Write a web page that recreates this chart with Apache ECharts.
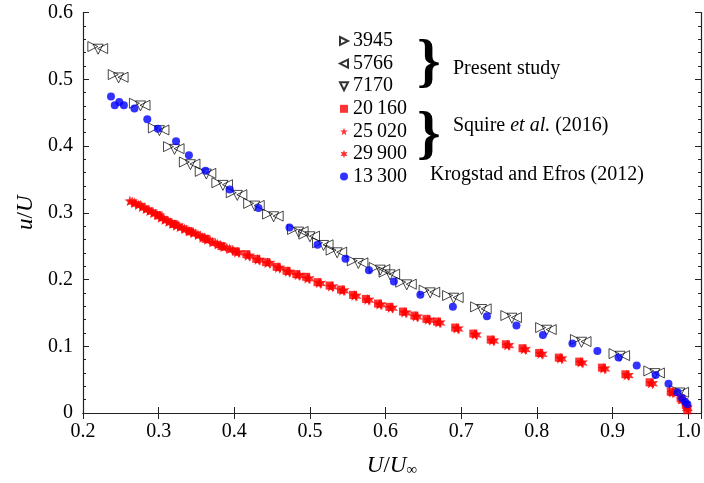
<!DOCTYPE html>
<html><head><meta charset="utf-8">
<script src="https://cdn.jsdelivr.net/npm/echarts@6/dist/echarts.min.js"></script>
<style>html,body{margin:0;padding:0;background:#fff}#c{width:704px;height:483px}</style>
</head><body><div id="c"></div>
<script>
// ---- data ----
const xTickLabels = ['0.2','0.3','0.4','0.5','0.6','0.7','0.8','0.9','1.0'];
const yTickLabels = ['0','0.1','0.2','0.3','0.4','0.5','0.6'];
const seriesNames = ['3945','5766','7170','20\u2009160','25\u2009020','29\u2009900','13\u2009300'];

const re3945 = [[0.213,0.549],[0.240,0.507],[0.268,0.464],[0.293,0.427],[0.313,0.399],[0.334,0.376],[0.355,0.362],[0.377,0.345],[0.396,0.330],[0.419,0.314],[0.444,0.298],[0.477,0.275],[0.492,0.268],[0.510,0.255],[0.528,0.244],[0.556,0.228],[0.585,0.218],[0.598,0.211],[0.620,0.196],[0.651,0.184],[0.682,0.176],[0.719,0.159],[0.759,0.146],[0.805,0.128],[0.851,0.110],[0.902,0.089],[0.948,0.063],[0.982,0.034]];
const re5766 = [[0.226,0.546],[0.253,0.503],[0.282,0.461],[0.307,0.424],[0.327,0.396],[0.348,0.373],[0.369,0.359],[0.391,0.342],[0.410,0.327],[0.433,0.311],[0.458,0.295],[0.491,0.272],[0.506,0.265],[0.524,0.252],[0.542,0.241],[0.570,0.225],[0.599,0.215],[0.612,0.208],[0.634,0.193],[0.665,0.181],[0.696,0.173],[0.733,0.156],[0.773,0.143],[0.819,0.125],[0.865,0.107],[0.916,0.086],[0.962,0.060],[0.994,0.031]];
const re7170 = [[0.220,0.545],[0.247,0.502],[0.276,0.460],[0.301,0.423],[0.321,0.395],[0.342,0.372],[0.363,0.358],[0.385,0.341],[0.404,0.326],[0.427,0.310],[0.452,0.294],[0.485,0.271],[0.500,0.264],[0.518,0.251],[0.536,0.240],[0.564,0.224],[0.593,0.214],[0.606,0.207],[0.628,0.192],[0.659,0.180],[0.690,0.172],[0.727,0.155],[0.767,0.142],[0.813,0.124],[0.859,0.106],[0.910,0.085],[0.956,0.059],[0.989,0.030]];
const sq20160 = [[0.300,0.296],[0.320,0.283],[0.341,0.272],[0.362,0.261],[0.383,0.250],[0.402,0.242],[0.416,0.238],[0.429,0.231],[0.442,0.226],[0.456,0.219],[0.469,0.213],[0.482,0.208],[0.495,0.204],[0.510,0.196],[0.526,0.191],[0.541,0.185],[0.557,0.177],[0.574,0.171],[0.590,0.164],[0.605,0.159],[0.623,0.152],[0.638,0.146],[0.654,0.141],[0.668,0.137],[0.692,0.128],[0.716,0.119],[0.739,0.110],[0.759,0.103],[0.781,0.097],[0.803,0.090],[0.829,0.083],[0.856,0.077],[0.886,0.068],[0.917,0.058],[0.949,0.046],[0.977,0.032],[0.990,0.022],[0.997,0.012],[0.999,0.004]];
const st25020 = [[0.262,0.318],[0.268,0.315],[0.273,0.312],[0.278,0.309],[0.283,0.306],[0.288,0.303],[0.293,0.300],[0.298,0.297],[0.303,0.293],[0.308,0.290],[0.313,0.287],[0.318,0.284],[0.323,0.281],[0.328,0.279],[0.334,0.276],[0.340,0.273],[0.346,0.270],[0.352,0.267],[0.358,0.263],[0.364,0.260],[0.371,0.256],[0.378,0.253],[0.386,0.249],[0.394,0.246],[0.404,0.241],[0.418,0.236],[0.431,0.230],[0.444,0.225],[0.458,0.218],[0.471,0.212],[0.484,0.207],[0.497,0.202],[0.512,0.195],[0.528,0.190],[0.543,0.184],[0.559,0.176],[0.576,0.170],[0.592,0.163],[0.607,0.158],[0.625,0.151],[0.640,0.145],[0.656,0.140],[0.670,0.136],[0.694,0.127],[0.718,0.118],[0.741,0.109],[0.761,0.102],[0.783,0.096],[0.805,0.089],[0.831,0.082],[0.858,0.076],[0.888,0.067],[0.919,0.057],[0.951,0.045],[0.979,0.031],[0.991,0.021],[0.998,0.010]];
const st29900 = [[0.265,0.316],[0.270,0.313],[0.276,0.311],[0.281,0.307],[0.286,0.304],[0.291,0.301],[0.296,0.298],[0.301,0.295],[0.306,0.291],[0.311,0.288],[0.316,0.285],[0.321,0.282],[0.326,0.280],[0.331,0.277],[0.337,0.274],[0.343,0.271],[0.349,0.268],[0.355,0.265],[0.361,0.262],[0.368,0.258],[0.375,0.254],[0.382,0.251],[0.390,0.247],[0.398,0.244],[0.406,0.240],[0.420,0.235],[0.433,0.229],[0.447,0.224],[0.460,0.217],[0.473,0.211],[0.486,0.206],[0.499,0.201],[0.514,0.194],[0.530,0.189],[0.545,0.183],[0.561,0.175],[0.578,0.169],[0.594,0.162],[0.609,0.157],[0.627,0.150],[0.642,0.144],[0.658,0.139],[0.672,0.135],[0.696,0.126],[0.720,0.117],[0.743,0.108],[0.763,0.101],[0.785,0.095],[0.807,0.088],[0.833,0.081],[0.860,0.075],[0.890,0.066],[0.921,0.056],[0.953,0.044],[0.980,0.030],[0.993,0.018],[0.999,0.007]];
const ke13300 = [[0.237,0.474],[0.242,0.461],[0.248,0.466],[0.254,0.461],[0.268,0.456],[0.285,0.440],[0.299,0.426],[0.323,0.407],[0.340,0.386],[0.362,0.363],[0.394,0.335],[0.432,0.307],[0.473,0.278],[0.510,0.252],[0.547,0.231],[0.578,0.214],[0.611,0.197],[0.646,0.177],[0.689,0.159],[0.734,0.145],[0.773,0.131],[0.808,0.117],[0.847,0.104],[0.880,0.093],[0.908,0.083],[0.932,0.071],[0.957,0.057],[0.974,0.044],[0.986,0.031],[0.992,0.022],[0.996,0.017],[0.999,0.013]];

// ---- styling ----
const FONT = '"Liberation Serif", "DejaVu Serif", serif';
const TRI_R = 'path://M0,0 L10,5 L0,10 Z';
const TRI_L = 'path://M10,0 L0,5 L10,10 Z';
const TRI_D = 'path://M0,0 L10,0 L5,10 Z';
const STAR5 = 'path://M50,0 L61,35 L98,35 L68,57 L79,91 L50,70 L21,91 L32,57 L2,35 L39,35 Z';
const STAR6 = 'path://M50,0 L62,28 L93,25 L75,50 L93,75 L62,72 L50,100 L38,72 L7,75 L25,50 L7,25 L38,28 Z';

function hollow(name, data, sym) {
  return {name, type:'scatter', data, symbol:sym, symbolSize:10,
    itemStyle:{color:'rgba(255,255,255,0)', borderColor:'#000', borderWidth:0.9}};
}
function filled(name, data, sym, size, color) {
  return {name, type:'scatter', data, symbol:sym, symbolSize:size,
    itemStyle:{color, borderWidth:0}};
}

const chart = echarts.init(document.getElementById('c'), null, {renderer:'canvas'});
const axisLine = {show:true, lineStyle:{color:'#222', width:1.2}};
const tickIn = {show:true, inside:true, length:6, lineStyle:{color:'#222'}};
chart.setOption({
  animation:false,
  backgroundColor:'#fff',
  grid:{left:83, right:2, top:12.5, bottom:68, containLabel:false},
  xAxis:[{
    type:'value', min:0.2, max:1.017, interval:0.1,
    axisLine, axisTick:tickIn, splitLine:{show:false},
    axisLabel:{color:'#000', fontFamily:FONT, fontSize:20, margin:9,
      formatter:v => v > 1.005 ? '' : xTickLabels[Math.round((v-0.2)*10)]},
    name:'{i|U}{n|/}{i|U}{s|∞}', nameLocation:'middle', nameGap:40,
    nameTextStyle:{rich:{
      i:{fontFamily:FONT, fontStyle:'italic', fontSize:23, color:'#000'},
      n:{fontFamily:FONT, fontSize:23, color:'#000'},
      s:{fontFamily:FONT, fontSize:15, color:'#000', padding:[10,0,0,0]}}}
  },{
    type:'value', position:'top', min:0.2, max:1.017, interval:0.1,
    axisLine, axisTick:tickIn, axisLabel:{show:false}, splitLine:{show:false}
  }],
  yAxis:[{
    type:'value', min:0, max:0.6, interval:0.1,
    axisLine, axisTick:tickIn, splitLine:{show:false},
    minorTick:{show:true, splitNumber:5, length:3, lineStyle:{color:'#222'}},
    axisLabel:{color:'#000', fontFamily:FONT, fontSize:20, margin:10,
      formatter:v => yTickLabels[Math.round(v*10)]},
    name:'{i|u}{n|/}{i|U}', nameLocation:'middle', nameGap:46, nameRotate:90,
    nameTextStyle:{rich:{
      i:{fontFamily:FONT, fontStyle:'italic', fontSize:23, color:'#000'},
      n:{fontFamily:FONT, fontSize:23, color:'#000'}}}
  },{
    type:'value', position:'right', min:0, max:0.6, interval:0.1,
    axisLine, axisTick:tickIn, axisLabel:{show:false}, splitLine:{show:false},
    minorTick:{show:true, splitNumber:5, length:3, lineStyle:{color:'#222'}}
  }],
  legend:{
    orient:'vertical', left:334, top:26, itemWidth:8, itemHeight:8, itemGap:2.6,
    textStyle:{fontFamily:FONT, fontSize:20, lineHeight:20, color:'#000'},
    data:seriesNames
  },
  series:[
    hollow(seriesNames[0], re3945, TRI_R),
    hollow(seriesNames[1], re5766, TRI_L),
    hollow(seriesNames[2], re7170, TRI_D),
    filled(seriesNames[3], sq20160, 'rect', 8, '#ff0000'),
    filled(seriesNames[4], st25020, STAR5, 11, '#ff0000'),
    filled(seriesNames[5], st29900, STAR6, 11, '#ff0000'),
    filled(seriesNames[6], ke13300, 'circle', 8, '#0000ff')
  ],
  graphic:[
    {type:'text', style:{x:417, y:64, text:'}', fontFamily:FONT, fontSize:60, fontWeight:'bold', fill:'#000', textAlign:'left', textVerticalAlign:'middle'}},
    {type:'text', style:{x:417, y:136, text:'}', fontFamily:FONT, fontSize:60, fontWeight:'bold', fill:'#000', textAlign:'left', textVerticalAlign:'middle'}},
    {type:'text', style:{x:453, y:69, text:'Present study', fontFamily:FONT, fontSize:20, fill:'#000', textVerticalAlign:'middle'}},
    {type:'text', style:{x:453, y:126, text:'Squire {i|et al.} (2016)', fontFamily:FONT, fontSize:20, fill:'#000', textVerticalAlign:'middle',
      rich:{i:{fontFamily:FONT, fontStyle:'italic', fontSize:20, fill:'#000'}}}},
    {type:'text', style:{x:430, y:175, text:'Krogstad and Efros (2012)', fontFamily:FONT, fontSize:20, fill:'#000', textVerticalAlign:'middle'}}
  ]
});
</script></body></html>
